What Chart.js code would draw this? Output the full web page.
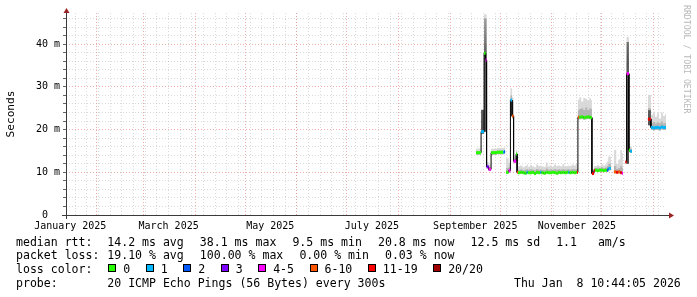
<!DOCTYPE html>
<html>
<head>
<meta charset="utf-8">
<script src="https://cdn.jsdelivr.net/npm/chart.js@4.4.1/dist/chart.umd.min.js"></script>
<style>
  body { margin: 0; background: #fff; }
  #wrap { position: relative; width: 697px; height: 297px; overflow: hidden;
          font-family: 'DejaVu Sans Mono', monospace; font-size: 11.55px; color: #000; }
  #wrap canvas { position: absolute; left: 0; top: 0; }
  .t { position: absolute; white-space: pre; line-height: 14px; height: 14px; }
  .sw { position: absolute; width: 6px; height: 6px; border: 1px solid #000; }
</style>
</head>
<body>
<div id="wrap">
  <canvas id="smoke" width="697" height="297"></canvas>
</div>
<script>
// time axis in days since 1 Jan 2025 00:00, graph covers the last 360 days
const startDay = 12.447;
const endDay = 372.447;

const xLabelDays = [15, 74, 135, 196, 258, 319];
const xLabels = ['January 2025', 'March 2025', 'May 2025', 'July 2025', 'September 2025', 'November 2025'];
const monthStarts = [31, 59, 90, 120, 151, 181, 212, 243, 273, 304, 334, 365];

const yGridValues = [0, 2, 4, 6, 8, 10, 12, 14, 16, 18, 20, 22, 24, 26, 28, 30, 32, 34, 36, 38, 40, 42, 44, 46];
const yLabelValues = [0, 10, 20, 30, 40];
const yLabels = ['0  ', '10 m', '20 m', '30 m', '40 m'];

const lossNames = ['0', '1', '2', '3', '4-5', '6-10', '11-19', '20/20'];
const lossColors = ['#26ff00', '#00b8ff', '#0059ff', '#7e00ff', '#ff00ff', '#ff5500', '#ff0000', '#a00000'];

// each entry starts an interval that lasts until the next entry (ms values)
const stepDay = [
  12.447, 258.5, 261.5, 263.3, 264.2, 264.8, 266.0, 267.5, 271.0, 274.7,
  275.3, 275.9, 276.5, 278.0, 279.1, 280.1, 281.0, 282.5, 283.1, 283.7,
  285.0, 286.3, 287.6, 288.8, 289.5, 290.8, 292.0, 293.3, 294.5, 295.8,
  297.0, 297.7, 299.0, 300.3, 301.5, 302.8, 304.0, 305.3, 306.5, 307.8,
  309.0, 310.3, 311.5, 312.8, 313.8, 314.5, 315.8, 317.0, 318.3, 319.0,
  319.6, 320.4, 321.6, 322.8, 324.0, 325.2, 326.4, 327.4, 328.0, 329.2,
  329.8, 331.0, 332.2, 333.4, 334.6, 335.8, 337.0, 337.8, 339.4, 341.2,
  342.6, 343.8, 345.0, 346.0, 346.6, 348.1, 348.8, 350.2, 350.9, 352.0,
  361.6, 362.5, 363.4, 364.6, 365.8, 367.0, 368.2, 369.4, 370.6, 371.8
];
const medianMs = [
  null, 14.6, 19.5, 37.9, 36.3, 11.3, 10.7, 14.6, 14.7, 14.7,
  14.8, null, 10.0, 10.4, 26.9, 23.2, 12.6, 14.3, 10.0, 9.9,
  10.0, 9.9, 9.8, 10.0, 9.9, 9.9, 10.0, 9.7, 10.0, 9.9,
  10.0, 9.9, 9.8, 10.0, 9.9, 9.9, 10.0, 9.9, 9.8, 10.0,
  9.9, 10.0, 9.9, 10.0, 10.0, 9.9, 10.0, 9.9, 10.0, 10.0,
  22.9, 22.9, 23.0, 22.8, 22.9, 23.0, 22.9, 22.8, 9.7, 10.4,
  10.5, 10.4, 10.5, 10.5, 10.4, 10.5, 10.5, 10.9, null, 10.1,
  10.0, 10.1, 9.9, 9.8, null, 12.4, 33.1, 15.2, 14.9, null,
  22.4, 22.5, 20.5, 20.4, 20.5, 20.5, 20.4, 20.6, 20.5, 20.5
];
const lossIdx = [
  null, 0, 1, 0, 4, 3, 4, 0, 0, 1,
  2, null, 0, 4, 1, 5, 4, 0, 5, 0,
  0, 0, 0, 1, 0, 0, 0, 0, 0, 0,
  1, 0, 0, 0, 0, 0, 0, 0, 0, 0,
  0, 0, 0, 0, 1, 0, 0, 0, 0, 6,
  5, 0, 0, 0, 0, 0, 0, 0, 6, 6,
  0, 0, 0, 0, 0, 0, 2, 1, null, 5,
  6, 5, 6, 4, null, 6, 4, 0, 1, null,
  6, 6, 1, 1, 1, 1, 1, 1, 1, 1
];
const smokeLow = [
  null, 14.1, 19.0, 19.5, 19.5, 10.9, 10.3, 14.1, 14.2, 14.2,
  14.3, null, 9.7, 9.9, 23.0, 22.6, 12.1, 13.8, 9.7, 9.6,
  9.7, 9.6, 9.5, 9.7, 9.6, 9.6, 9.7, 9.4, 9.7, 9.6,
  9.7, 9.6, 9.5, 9.7, 9.6, 9.6, 9.7, 9.6, 9.5, 9.7,
  9.6, 9.7, 9.6, 9.7, 9.7, 9.6, 9.7, 9.6, 9.7, 9.7,
  22.4, 22.4, 22.5, 22.3, 22.4, 22.5, 22.4, 22.3, 9.4, 10.1,
  10.2, 10.1, 10.2, 10.2, 10.1, 10.2, 10.2, 10.5, null, 9.8,
  9.7, 9.8, 9.6, 9.5, null, 12.0, 12.0, 14.7, 14.6, null,
  21.0, 21.0, 19.9, 19.8, 19.9, 19.9, 19.8, 20.0, 19.9, 19.9
];
const smokeMid = [
  null, 15.0, 22.0, 40.0, 40.0, 11.8, 11.2, 15.0, 15.1, 15.1,
  15.2, null, 11.0, 11.2, 28.0, 26.5, 13.2, 14.8, 10.6, 10.6,
  10.7, 10.5, 10.6, 10.8, 10.6, 10.7, 10.6, 10.5, 10.8, 10.6,
  10.7, 10.6, 10.5, 10.9, 10.6, 10.7, 10.6, 10.8, 10.6, 10.7,
  10.6, 10.8, 10.6, 10.7, 10.7, 10.6, 10.8, 10.7, 10.8, 10.8,
  24.5, 24.8, 25.0, 24.5, 25.2, 24.6, 25.0, 24.8, 10.3, 11.0,
  11.0, 11.1, 11.0, 11.2, 11.0, 11.1, 11.5, 12.0, null, 11.5,
  10.8, 11.0, 11.5, 11.0, null, 12.8, 36.0, 15.8, 15.5, null,
  25.0, 25.0, 21.5, 21.8, 21.4, 21.7, 21.5, 21.9, 21.4, 21.6
];
const smokeDark = [
  null, null, 24.6, 46.0, 46.0, null, null, null, null, null,
  null, null, null, null, null, null, null, null, null, null,
  null, null, null, null, null, null, null, null, null, null,
  null, null, null, null, null, null, null, null, null, null,
  null, null, null, null, null, null, null, null, null, null,
  null, null, null, null, null, null, null, null, null, null,
  null, null, null, null, null, null, null, null, null, null,
  null, null, null, null, null, null, 40.5, null, null, null,
  24.5, 24.5, null, null, null, null, null, null, null, null
];
const smokeHigh = [
  null, 15.6, 24.8, 47.0, 47.0, 12.4, 11.8, 15.5, 15.7, 15.7,
  15.8, null, 13.3, 12.2, 29.7, 27.5, 14.0, 15.3, 11.3, 11.4,
  11.6, 11.2, 11.5, 11.9, 11.3, 11.7, 11.4, 11.2, 11.8, 11.5,
  11.6, 11.4, 11.3, 12.3, 11.4, 11.6, 11.3, 11.8, 11.5, 11.6,
  11.4, 11.9, 11.4, 11.5, 11.6, 11.5, 11.8, 11.6, 12.0, 11.8,
  27.0, 27.6, 26.6, 27.4, 27.2, 26.8, 27.4, 26.9, 10.8, 11.5,
  11.5, 11.7, 11.5, 11.9, 11.6, 11.8, 12.5, 13.7, null, 15.2,
  12.0, 13.0, 15.2, 14.5, null, 13.0, 41.7, 16.5, 16.0, null,
  28.1, 28.1, 23.5, 24.2, 23.0, 23.8, 22.6, 24.0, 23.2, 23.6
];

const rttNames = ['avg', 'max', 'min', 'now', 'sd'];
const rttValues = [14.2, 38.1, 9.5, 20.8, 12.5];
const amPerSec = 1.1;
const lossStatNames = ['avg', 'max', 'min', 'now'];
const lossStatValues = [19.10, 100.00, 0.00, 0.03];
const probeText = '20 ICMP Echo Pings (56 Bytes) every 300s';
const stampText = 'Thu Jan  8 10:44:05 2026';

const FONT = 'DejaVu Sans Mono';
const MAJOR = 'rgba(225, 120, 120, 0.6)';
const MINOR = 'rgba(175, 175, 175, 0.45)';

// turn interval values into flat steps: two points per interval
const pointLoss = [];
function steps(values, track) {
  const pts = [];
  for (let i = 0; i < stepDay.length; i++) {
    const x0 = stepDay[i];
    const x1 = i + 1 < stepDay.length ? stepDay[i + 1] : endDay;
    const v = values[i];
    if (v === null) {
      pts.push({ x: x0, y: null });
      if (track) pointLoss.push(null);
      continue;
    }
    pts.push({ x: x0, y: v }, { x: x1, y: v });
    if (track) pointLoss.push(lossIdx[i], lossIdx[i]);
  }
  return pts;
}

const medianPts = steps(medianMs, true);
const lowPts = steps(smokeLow);
const midPts = steps(smokeMid);
const darkPts = steps(smokeDark.map((v, i) => v === null ? smokeLow[i] : v));
const highPts = steps(smokeHigh);

const xTicks = [];
for (let d = 18; d < endDay; d += 7) xTicks.push({ value: d, kind: 'week' });
monthStarts.forEach(d => xTicks.push({ value: d, kind: 'month' }));
xLabelDays.forEach(d => xTicks.push({ value: d, kind: 'label' }));
xTicks.sort((a, b) => a.value - b.value);

function darkFill(context) {
  const chart = context.chart;
  const area = chart.chartArea;
  if (!area) return '#555';
  const g = chart.ctx.createLinearGradient(0, area.bottom, 0, area.top);
  g.addColorStop(0, '#2c2c2c');
  g.addColorStop(0.5, '#5a5a5a');
  g.addColorStop(0.78, '#565656');
  g.addColorStop(1, '#a9a9a9');
  return g;
}

const frame = {
  id: 'frame',
  afterDraw(chart) {
    const { ctx, chartArea: a } = chart;
    ctx.save();
    ctx.strokeStyle = '#3a3a3a';
    ctx.lineWidth = 1;
    ctx.beginPath();
    ctx.moveTo(a.left + 0.5, a.bottom + 4);
    ctx.lineTo(a.left + 0.5, a.top - 3);
    ctx.moveTo(a.left - 4, a.bottom + 0.5);
    ctx.lineTo(a.right + 4, a.bottom + 0.5);
    ctx.stroke();
    ctx.fillStyle = '#9b2323';
    ctx.beginPath();
    ctx.moveTo(a.left + 0.5, a.top - 5);
    ctx.lineTo(a.left + 3.5, a.top);
    ctx.lineTo(a.left - 2.5, a.top);
    ctx.fill();
    ctx.beginPath();
    ctx.moveTo(a.right + 8, a.bottom + 0.5);
    ctx.lineTo(a.right + 3, a.bottom + 3.5);
    ctx.lineTo(a.right + 3, a.bottom - 2.5);
    ctx.fill();
    ctx.translate(690, 5);
    ctx.rotate(Math.PI / 2);
    ctx.fillStyle = '#b8b8b8';
    ctx.font = '8.2px "' + FONT + '"';
    ctx.textBaseline = 'top';
    ctx.fillText('RRDTOOL / TOBI OETIKER', 0, 0);
    ctx.restore();
  }
};

Chart.defaults.font.family = FONT;

new Chart(document.getElementById('smoke'), {
  type: 'line',
  data: {
    datasets: [{
      data: medianPts,
      borderWidth: 3,
      borderCapStyle: 'butt',
      segment: {
        borderColor: c => (c.p0.parsed.x === c.p1.parsed.x || pointLoss[c.p0DataIndex] === null)
          ? 'rgba(0,0,0,0)' : lossColors[pointLoss[c.p0DataIndex]]
      },
      pointRadius: 0,
      fill: false
    }, {
      data: medianPts,
      borderColor: '#000',
      borderWidth: 1,
      pointRadius: 0,
      fill: false
    }, {
      data: darkPts,
      borderWidth: 0,
      borderColor: 'rgba(0,0,0,0)',
      backgroundColor: darkFill,
      pointRadius: 0,
      fill: 4
    }, {
      data: midPts,
      borderWidth: 0,
      borderColor: 'rgba(0,0,0,0)',
      backgroundColor: '#b4b4b4',
      pointRadius: 0,
      fill: 4
    }, {
      data: lowPts,
      borderWidth: 0,
      borderColor: 'rgba(0,0,0,0)',
      pointRadius: 0,
      fill: false
    }, {
      data: highPts,
      borderWidth: 0,
      borderColor: 'rgba(0,0,0,0)',
      backgroundColor: '#d9d9d9',
      pointRadius: 0,
      fill: 4
    }]
  },
  options: {
    responsive: false,
    animation: false,
    devicePixelRatio: 1,
    layout: { padding: { top: 13, right: 31, bottom: 66, left: 0 } },
    plugins: { legend: { display: false }, tooltip: { enabled: false } },
    scales: {
      x: {
        type: 'linear',
        min: startDay,
        max: endDay,
        bounds: 'data',
        afterBuildTicks: s => { s.ticks = xTicks.map(t => ({ value: t.value })); },
        afterFit: s => { s.height = 16; },
        grid: {
          drawTicks: false,
          lineWidth: 1,
          color: c => {
            const t = xTicks[c.index];
            if (!t || t.kind === 'label') return 'rgba(0,0,0,0)';
            return t.kind === 'month' ? MAJOR : MINOR;
          }
        },
        border: { display: false, dash: [1, 2] },
        ticks: {
          autoSkip: false,
          maxRotation: 0,
          minRotation: 0,
          padding: 5,
          color: '#000',
          font: { family: FONT, size: 10 },
          callback: (v, i) => {
            const t = xTicks[i];
            return t && t.kind === 'label' ? xLabels[xLabelDays.indexOf(t.value)] : '';
          }
        }
      },
      y: {
        type: 'linear',
        min: 0,
        max: 47.3,
        bounds: 'data',
        afterBuildTicks: s => { s.ticks = yGridValues.map(v => ({ value: v })); },
        afterFit: s => { s.width = 66; },
        grid: {
          drawTicks: true,
          tickLength: 3,
          tickColor: '#666',
          lineWidth: 1,
          color: c => (c.tick && yLabelValues.includes(c.tick.value)) ? MAJOR : MINOR
        },
        border: { display: false, dash: [1, 2] },
        ticks: {
          autoSkip: false,
          padding: 3,
          color: '#000',
          font: { family: FONT, size: 10 },
          callback: v => {
            const k = yLabelValues.indexOf(v);
            return k >= 0 ? yLabels[k] : '';
          }
        },
        title: {
          display: true,
          text: 'Seconds',
          color: '#000',
          font: { family: FONT, size: 11.2 },
          padding: { top: 4, bottom: 0 }
        }
      }
    }
  },
  plugins: [frame]
});

// legend rows under the plot
const wrap = document.getElementById('wrap');
const CH = 6.96;
const ROW_TOP = [234.5, 248.3, 262.0, 275.8];
const COL = 107.3;

function put(text, x, row) {
  const s = document.createElement('span');
  s.className = 't';
  s.style.left = x + 'px';
  s.style.top = ROW_TOP[row] + 'px';
  s.textContent = text;
  wrap.appendChild(s);
  return x + text.length * CH;
}

put('median rtt:', 16, 0);
let x = COL;
rttValues.forEach((v, i) => { x = put(v.toFixed(1) + ' ms ' + rttNames[i], x, 0) + 16; });
put(amPerSec.toFixed(1) + '   am/s', x, 0);

put('packet loss:', 16, 1);
x = COL;
lossStatValues.forEach((v, i) => { x = put(v.toFixed(2) + ' % ' + lossStatNames[i], x, 1) + 16; });

put('loss color:', 16, 2);
x = COL;
lossNames.forEach((name, i) => {
  const b = document.createElement('div');
  b.className = 'sw';
  b.style.left = (x + 1) + 'px';
  b.style.top = (ROW_TOP[2] + 2) + 'px';
  b.style.background = lossColors[i];
  wrap.appendChild(b);
  x = put(name, x + 16, 2) + 14.5;
});

put('probe:', 16, 3);
put(probeText, COL, 3);
put(stampText, 681 - stampText.length * CH, 3);
</script>
</body>
</html>
